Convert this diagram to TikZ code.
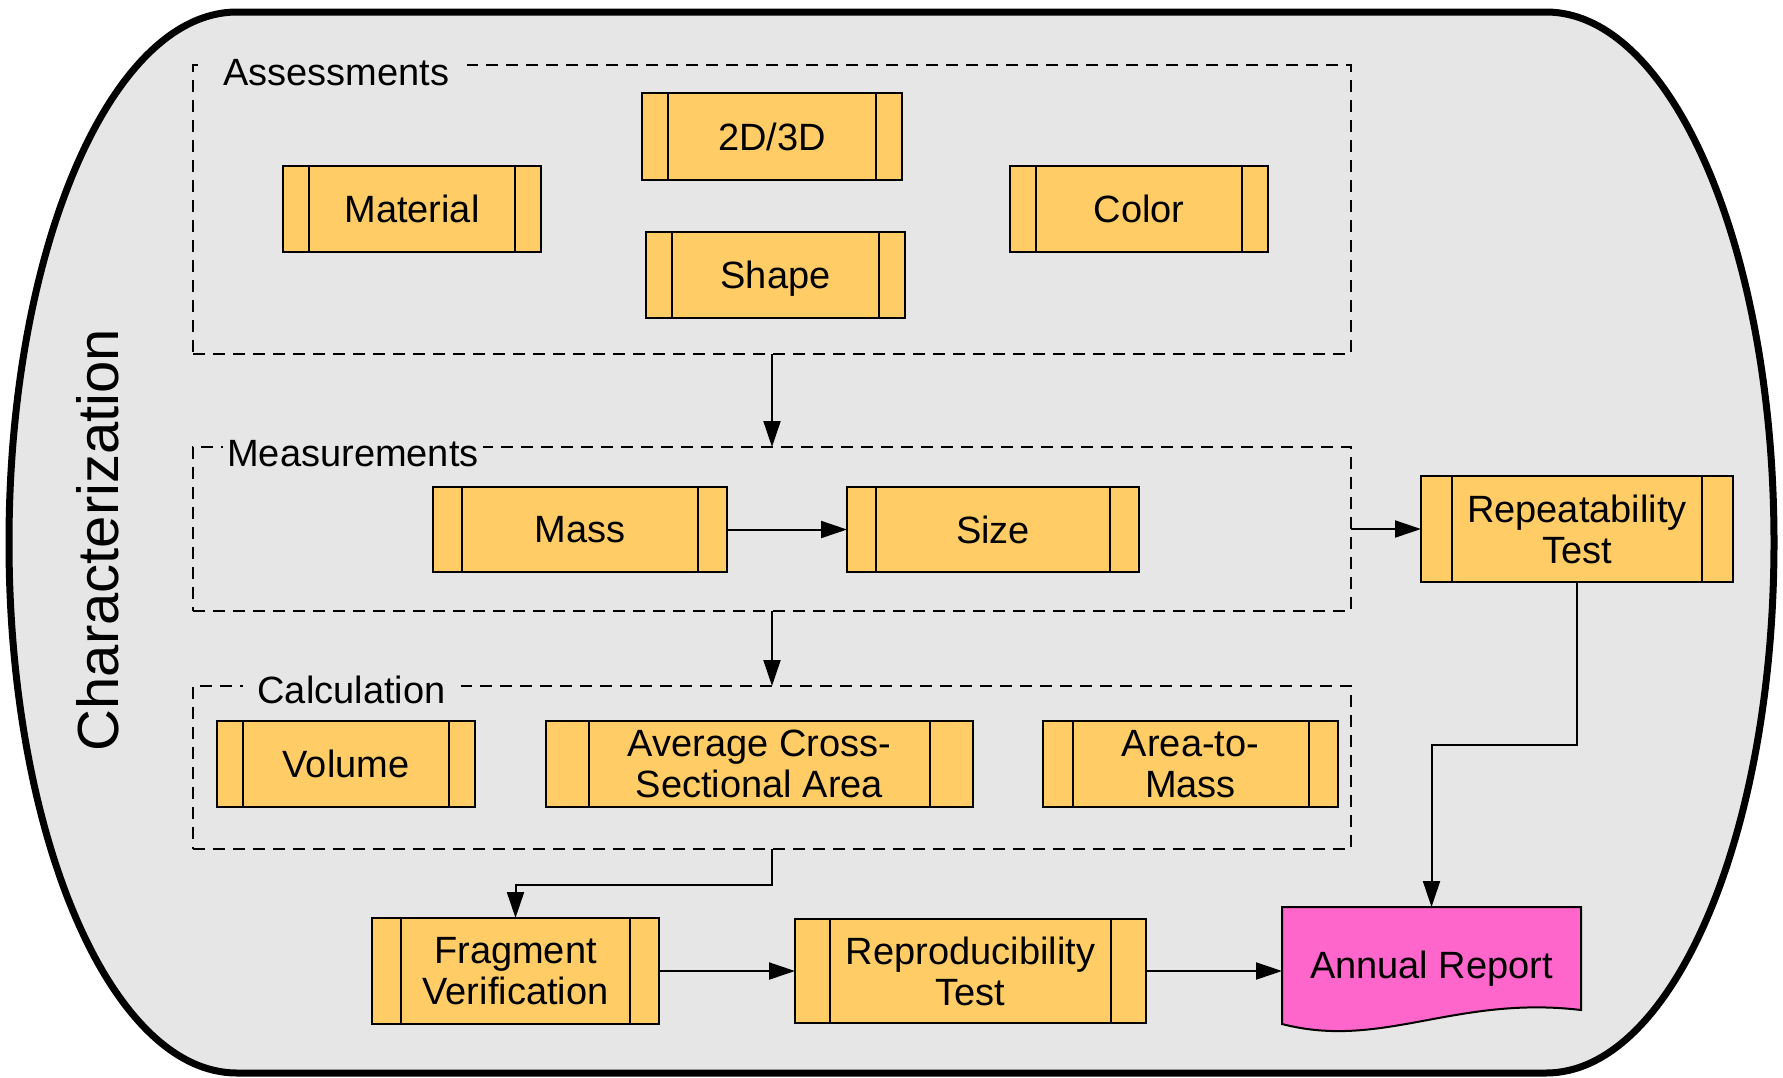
\documentclass[tikz,border=0pt]{standalone}
\usepackage{fontspec}
\setmainfont{Liberation Sans}
\usetikzlibrary{arrows.meta,calc}
\definecolor{bggray}{HTML}{E6E6E6}
\definecolor{procfill}{HTML}{FFCC66}
\definecolor{docfill}{HTML}{FF66CC}
\newcommand\procbars[1]{\draw[line width=2pt]
  ($(#1.north west)!0.1!(#1.north east)$) -- ($(#1.south west)!0.1!(#1.south east)$)
  ($(#1.north east)!0.1!(#1.north west)$) -- ($(#1.south east)!0.1!(#1.south west)$);}
\begin{document}
\begin{tikzpicture}[x=1pt,y=-1pt,
  every node/.style={font=\fontsize{38}{41}\selectfont},
  procbox/.style={draw,line width=2pt,fill=procfill,inner sep=0pt,outer sep=0pt,align=center},
  nodesc/.style={text depth=0.6pt},
  group/.style={draw,dashed,dash pattern=on 12pt off 8pt,line width=2pt,inner sep=0pt,outer sep=0pt},
  grouplabel/.style={fill=bggray,anchor=base,inner ysep=3pt},
  conn/.style={line width=2pt,-{Triangle[length=26pt,width=17pt]}}]
\useasboundingbox (0,0) rectangle (1783,1077);
% outer container
\draw[line width=7pt,fill=bggray] (237,12) -- (1546,12)
  arc[start angle=90,end angle=-90,x radius=228pt,y radius=530.5pt]
  -- (237,1073)
  arc[start angle=270,end angle=90,x radius=228pt,y radius=530.5pt] -- cycle;
\node[rotate=90,anchor=base,font=\fontsize{58}{60}\selectfont] (title) at (118,540) {Characterization};

% groups
\node[group,minimum width=1158pt,minimum height=289pt] (assess) at (772,209.5) {};
\node[group,minimum width=1158pt,minimum height=164pt] (meas) at (772,529) {};
\node[group,minimum width=1158pt,minimum height=163pt] (calc) at (772,767.5) {};
\node[grouplabel,inner xsep=18pt] (assesslbl) at (336.5,85.5) {Assessments};
\node[grouplabel,inner xsep=4pt] (measlbl) at (353,466) {Measurements};
\node[grouplabel,inner xsep=15pt] (calclbl) at (351.5,703) {Calculation};

% assessments
\node[procbox,minimum width=260pt,minimum height=87pt] (d23) at (772,136.5) {2D/3D};
\node[procbox,minimum width=258pt,minimum height=86pt] (material) at (412,209) {Material};
\node[procbox,nodesc,minimum width=259pt,minimum height=86pt] (shape) at (775.5,275) {Shape};
\node[procbox,minimum width=258pt,minimum height=86pt] (color) at (1139,209) {Color};
% measurements
\node[procbox,minimum width=294pt,minimum height=85pt] (mass) at (580,529.5) {Mass};
\node[procbox,minimum width=292pt,minimum height=85pt] (size) at (993,529.5) {Size};
\node[procbox,minimum width=312pt,minimum height=106pt] (rep) at (1577,529) {Repeatability\\Test};
% calculation
\node[procbox,minimum width=258pt,minimum height=86pt] (volume) at (346,764) {Volume};
\node[procbox,minimum width=427pt,minimum height=86pt] (acsa) at (759.5,764) {Average Cross-\\Sectional Area};
\node[procbox,minimum width=295pt,minimum height=86pt] (atm) at (1190.5,764) {Area-to-\\Mass};
% bottom row
\node[procbox,minimum width=287pt,minimum height=106pt] (frag) at (515.5,971) {Fragment\\Verification};
\node[procbox,minimum width=351pt,minimum height=104pt] (repro) at (970.5,971) {Reproducibility\\Test};
\foreach \n in {d23,material,shape,color,mass,size,rep,volume,acsa,atm,frag,repro} {\procbars{\n}}

% annual report (document shape)
\node[inner sep=0pt,outer sep=0pt,minimum width=299pt,minimum height=128pt] (annual) at (1431.5,971) {};
\draw[line width=2pt,fill=docfill] (1282,907) -- (1581,907) -- (1581,1010)
  .. controls (1455,995) and (1382,1050) .. (1282,1024) -- cycle;
\node[nodesc] (annualtxt) at (1431.5,965.5) {Annual Report};

% connectors
\draw[conn] (assess.south) -- (meas.north);
\draw[conn] (mass.east) -- (size.west);
\draw[conn] (meas.south) -- (calc.north);
\draw[conn] (meas.east) -- (rep.west);
\draw[conn] (calc.south) -- ++(0,36) -| (frag.north);
\draw[conn] (frag.east) -- (repro.west);
\draw[conn] (repro.east) -- (annual.west);
\draw[conn] (rep.south) -- ++(0,163) -| (annual.north);
\end{tikzpicture}
\end{document}
